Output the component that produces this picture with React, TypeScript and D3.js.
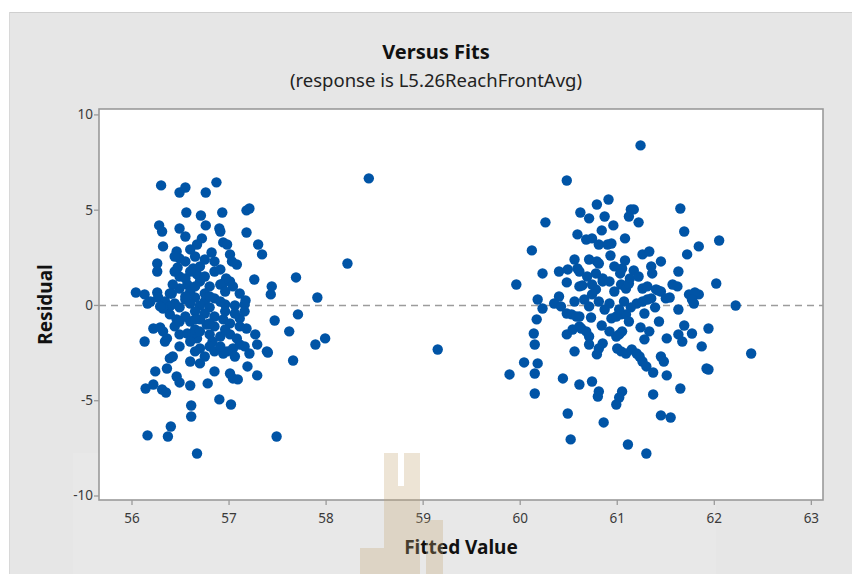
import React from "react";
import * as d3 from "d3";

const title = "Versus Fits";
const subtitle = "(response is L5.26ReachFrontAvg)";
const xLabel = "Fitted Value";
const yLabel = "Residual";
const xTicks = [56, 57, 58, 59, 60, 61, 62, 63];
const yTicks = [-10, -5, 0, 5, 10];

// Fitted values (group near 56-58)
const fitsLow = [
  56.30, 56.49, 56.55, 56.76, 56.87, 56.56, 56.71, 56.93, 57.18, 57.21,
  56.28, 56.31, 56.49, 56.55, 56.76, 56.90, 56.91, 57.18, 56.72, 56.67,
  56.94, 56.98, 56.82, 57.30, 57.34, 57.01, 57.08, 57.03, 56.32, 56.46,
  56.49, 56.47, 56.26, 56.26, 56.63, 56.67, 56.70, 56.57, 56.49, 56.42,
  56.41, 56.80, 56.94, 57.01, 56.97, 56.91, 57.04, 57.26, 57.44, 57.43,
  57.69, 57.91, 56.04, 56.13, 56.19, 56.26, 56.27, 57.17, 58.22, 58.44,
  59.15,
  56.34, 56.44, 56.55, 56.65, 56.75, 56.85, 56.96, 57.06, 56.39, 56.49,
  56.70, 56.80, 57.16, 56.60, 56.91,
  56.55, 56.60, 56.70, 56.75, 56.60, 56.49, 56.65, 56.75, 56.85, 56.55,
  56.44,
  56.16, 56.32, 56.39, 56.46, 56.77, 56.80, 56.83, 56.94, 57.11, 57.18,
  56.22, 56.32, 56.36, 56.13, 56.49, 56.49, 56.67, 56.70, 57.01, 57.08,
  57.11, 57.04, 56.98, 56.94, 57.27, 57.29, 57.39, 56.39, 56.36, 56.60,
  56.70, 56.85, 57.01, 57.04, 57.09, 57.19, 57.29, 56.24, 56.46, 56.49,
  56.60, 56.78, 56.14, 56.22, 56.31, 56.35, 56.90, 57.02, 56.61, 56.61,
  56.40, 56.16, 56.37, 57.49, 56.67, 57.71, 57.47, 57.62, 57.99, 57.89,
  57.40, 57.66, 56.57, 56.62, 56.29, 56.34, 56.42,
  56.65, 56.75, 56.85, 56.96, 57.06, 57.16, 56.60, 56.70, 56.85, 57.01,
  57.11, 56.65, 56.91, 56.80, 57.16, 57.21, 56.75, 56.85, 56.55, 56.44,
  56.44, 56.65, 56.75, 56.60, 56.85, 56.91, 56.55, 56.80, 56.96, 57.11,
  56.39, 56.29, 56.65, 56.80, 56.91, 56.60, 56.70, 56.96, 57.06, 56.65,
  56.49,
];
const residLow = [
  6.30, 5.93, 6.19, 5.93, 6.46, 4.88, 4.72, 4.88, 4.99, 5.09,
  4.20, 3.88, 4.04, 3.62, 4.20, 4.04, 3.88, 3.83, 3.52, 3.20,
  3.31, 3.20, 2.78, 3.20, 2.68, 2.68, 2.15, 2.31, 3.10, 2.83,
  2.47, 1.99, 2.20, 1.78, 1.94, 1.63, 1.26, 1.10, 0.89, 1.10,
  0.63, 1.00, 1.15, 1.26, 1.42, 1.10, 1.00, 1.36, 1.00, 0.58,
  1.47, 0.42, 0.68, 0.58, 0.21, 0.68, 0.42, 0.26, 2.20, 6.67,
  -2.31,
  0.21, 0.10, 0.31, 0.42, 0.21, 0.37, 0.05, 0.00, -0.05, -0.10,
  0.00, -0.10, 0.05, 0.10, 0.21,
  2.31, 1.78, 2.05, 1.52, 0.73, 1.52, 1.00, 0.63, 1.78, 0.47,
  1.78,
  0.10, -0.16, -0.47, -0.73, -1.00, -1.52, -1.89, -0.73, -0.68, -1.21,
  -1.21, -1.36, -1.73, -1.89, -1.52, -2.15, -1.73, -2.26, -1.52, -1.73,
  -2.05, -2.26, -2.41, -2.52, -1.52, -2.05, -2.41, -2.78, -3.31, -2.94,
  -3.04, -3.46, -3.57, -3.83, -3.88, -3.20, -3.67, -3.46, -3.73, -4.04,
  -4.20, -4.09, -4.36, -4.15, -4.41, -4.57, -4.93, -5.20, -5.25, -5.83,
  -6.35, -6.82, -6.88, -6.88, -7.77, -0.47, -0.79, -1.36, -1.73, -2.05,
  -2.47, -2.89, -1.47, -1.52, -1.15, -1.89, -2.68,
  -0.31, -0.42, -0.58, -0.31, -0.42, -0.31, -0.84, -0.73, -1.10, -0.94,
  -1.10, -1.26, -1.63, -2.15, -2.15, -2.52, -2.68, -2.41, -0.58, -1.10,
  2.57, 2.57, 2.41, 2.94, 2.31, 1.89, 1.42, 0.47, 0.73, 0.63,
  0.63, -0.05, -0.73, -0.94, -2.15, -1.89, -1.36, -1.26, -2.68, -2.41,
  -0.84,
];

// Fitted values (group near 60-62.4)
const fitsHigh = [
  61.24, 60.48, 60.91, 60.79, 60.62, 60.71, 60.87, 61.14, 61.17, 61.12,
  61.65, 60.26, 60.96, 61.22, 60.84, 61.69, 60.59, 61.08, 60.68, 60.74,
  60.81, 60.90, 60.94, 62.05, 61.84, 60.12, 61.72, 60.93, 61.26, 61.33,
  60.56, 60.71, 60.79, 61.08, 61.05, 61.45, 60.23, 60.40, 60.49, 60.59,
  60.61, 60.78, 60.85, 61.03, 61.17, 61.35, 61.36, 61.63, 59.96, 60.48,
  60.61, 60.64, 60.74, 60.78, 60.74, 61.04, 61.09, 60.97, 61.26, 61.31,
  61.42, 61.57, 61.62, 62.02, 60.18, 60.40, 61.74, 61.84, 61.54, 60.85,
  61.13, 61.12, 61.40, 61.45, 61.50, 61.80, 61.77, 61.79, 60.23, 60.35,
  60.42, 60.48, 60.53, 60.58, 60.61, 60.73, 60.94, 60.99, 61.04, 61.09,
  61.20, 61.26, 61.31, 61.35, 61.28, 61.39, 61.63, 60.17, 60.48, 60.54,
  60.63, 60.68, 60.71, 60.84, 61.02, 61.05, 60.99, 61.24, 61.28, 60.85,
  60.81, 60.79, 60.71, 60.56, 60.14, 60.15, 61.51, 61.63, 61.67, 61.69,
  61.77, 61.87, 61.00, 61.04, 61.09, 61.15, 61.20, 61.23, 61.26, 61.30,
  61.45, 61.48, 60.18, 61.92, 60.04, 60.15, 59.89, 60.15, 60.44, 60.61,
  60.74, 60.81, 60.80, 61.05, 61.02, 60.99, 61.37, 61.65, 60.49, 60.86,
  61.45, 61.55, 60.52, 61.11, 61.30, 61.94, 62.38, 62.22, 61.37, 61.51,
  61.94,
  60.66, 60.81, 60.92, 61.07, 60.71, 60.56, 61.14, 60.87,
  60.81, 60.97, 60.69, 61.22, 60.92, 61.02, 60.61, 60.92, 61.33, 61.43,
  61.12,
];
const residHigh = [
  8.40, 6.56, 5.56, 5.30, 4.88, 4.57, 4.67, 5.04, 5.04, 4.67,
  5.09, 4.36, 4.20, 4.36, 3.94, 3.88, 3.73, 3.52, 3.46, 3.52,
  3.20, 3.20, 3.25, 3.41, 3.10, 2.89, 2.68, 2.62, 2.68, 2.83,
  2.41, 2.41, 2.31, 2.36, 1.94, 2.31, 1.68, 1.78, 1.89, 1.94,
  1.78, 1.68, 1.42, 1.68, 1.84, 2.05, 1.68, 1.78, 1.10, 1.21,
  1.00, 1.05, 1.10, 0.84, 0.58, 1.10, 0.89, 0.73, 0.89, 1.00,
  0.79, 1.10, 1.00, 1.15, 0.31, 0.47, 0.58, 0.58, 0.42, 1.26,
  1.42, 1.15, 0.84, 0.73, 0.37, 0.68, 0.31, 0.10, -0.16, 0.10,
  -0.05, -0.42, -0.47, -0.58, -0.58, -0.63, -0.68, -0.58, -0.47, -0.47,
  0.10, 0.21, 0.31, 0.37, -0.42, -0.10, -0.21, -0.73, -1.52, -1.26,
  -1.21, -1.36, -1.63, -1.05, -1.52, -1.36, -1.63, -1.15, -1.78, -1.99,
  -2.26, -2.57, -2.05, -2.41, -1.47, -2.05, -1.73, -1.52, -1.89, -1.05,
  -1.47, -2.15, -2.26, -2.41, -2.52, -2.31, -2.52, -2.68, -2.94, -3.20,
  -2.68, -2.94, -3.04, -3.31, -2.99, -3.57, -3.62, -4.62, -3.83, -4.15,
  -3.99, -4.51, -4.78, -4.51, -4.83, -5.20, -4.67, -4.36, -5.67, -6.14,
  -5.77, -5.88, -7.03, -7.30, -7.77, -1.21, -2.52, 0.00, -3.52, -3.67,
  -3.36,
  0.31, 0.21, 0.10, 0.21, -0.05, 0.21, -0.10, -0.21,
  2.20, 2.05, 1.52, 1.52, 1.26, -0.21, -1.10, -1.36, -1.36, -0.84,
  -0.84,
];

const W = 852;
const H = 574;
const plot = { left: 99, right: 823, top: 109, bottom: 500 };

export default function App() {
  const x = d3.scaleLinear().domain([55.66, 63.12]).range([plot.left, plot.right]);
  const y = d3.scaleLinear().domain([-10.21, 10.31]).range([plot.bottom, plot.top]);

  const points = [
    ...fitsLow.map((f, i) => ({ f, r: residLow[i] })),
    ...fitsHigh.map((f, i) => ({ f, r: residHigh[i] })),
  ];

  const font = "'Noto Sans', 'Open Sans', sans-serif";
  const axisColor = "#9a9a9a";
  const textColor = "#3a3a3a";

  return (
    <svg
      width={W}
      height={H}
      style={{ position: "absolute", left: 0, top: 0, display: "block" }}
      xmlns="http://www.w3.org/2000/svg"
    >
      <rect x={0} y={0} width={W} height={H} fill="#ffffff" />
      <rect x={9} y={12} width={W - 9} height={H - 12} fill="#e6e6e6" />
      <line x1={9} x2={W} y1={12.5} y2={12.5} stroke="#cfcfcf" strokeWidth={1} />
      <line x1={9.5} x2={9.5} y1={12} y2={H} stroke="#d8d8d8" strokeWidth={1} />
      {/* faint lighter band from watermark */}
      <rect x={73} y={453} width={643} height={H - 453} fill="#ffffff" opacity={0.1} />

      <text x={436} y={59} textAnchor="middle" fontFamily={font} fontWeight={700} fontSize={20} fill="#111">
        {title}
      </text>
      <text x={436} y={87} textAnchor="middle" fontFamily={font} fontSize={18.5} fill="#222">
        {subtitle}
      </text>

      <rect
        x={plot.left}
        y={plot.top}
        width={plot.right - plot.left}
        height={plot.bottom - plot.top}
        fill="#ffffff"
        stroke={axisColor}
        strokeWidth={1.6}
      />

      {/* zero reference line */}
      <line
        x1={plot.left}
        x2={plot.right}
        y1={y(0)}
        y2={y(0)}
        stroke="#9c9c9c"
        strokeWidth={1.6}
        strokeDasharray="7,5"
      />

      {/* x ticks */}
      {xTicks.map((t) => (
        <g key={"xt" + t}>
          <line x1={x(t)} x2={x(t)} y1={plot.bottom} y2={plot.bottom + 5} stroke={axisColor} strokeWidth={1.3} />
          <text x={x(t)} y={plot.bottom + 23} textAnchor="middle" fontFamily={font} fontSize={13.5} fill={textColor}>
            {t}
          </text>
        </g>
      ))}
      {/* y ticks */}
      {yTicks.map((t) => (
        <g key={"yt" + t}>
          <line x1={plot.left - 5} x2={plot.left} y1={y(t)} y2={y(t)} stroke={axisColor} strokeWidth={1.3} />
          <text x={plot.left - 6} y={y(t) + 4.5} textAnchor="end" fontFamily={font} fontSize={13.5} fill={textColor}>
            {t}
          </text>
        </g>
      ))}

      {/* points */}
      {points.map((p, i) => (
        <circle key={i} cx={x(p.f)} cy={y(p.r)} r={5.2} fill="#0054a6" />
      ))}

      <text x={461} y={554} textAnchor="middle" fontFamily={font} fontWeight={700} fontSize={19} fill="#111">
        {xLabel}
      </text>
      <text
        transform={`translate(52,${(plot.top + plot.bottom) / 2}) rotate(-90)`}
        textAnchor="middle"
        fontFamily={font}
        fontWeight={700}
        fontSize={19}
        fill="#111"
      >
        {yLabel}
      </text>

      {/* watermark */}
      <path
        d="M384,453 H398 V486 H404 V453 H420 V520 H443 V574 H426 V540 H420 V574 H384 V548 H360 V574 H384 Z"
        fill="rgb(196,165,115)"
        opacity={0.3}
      />
    </svg>
  );
}
